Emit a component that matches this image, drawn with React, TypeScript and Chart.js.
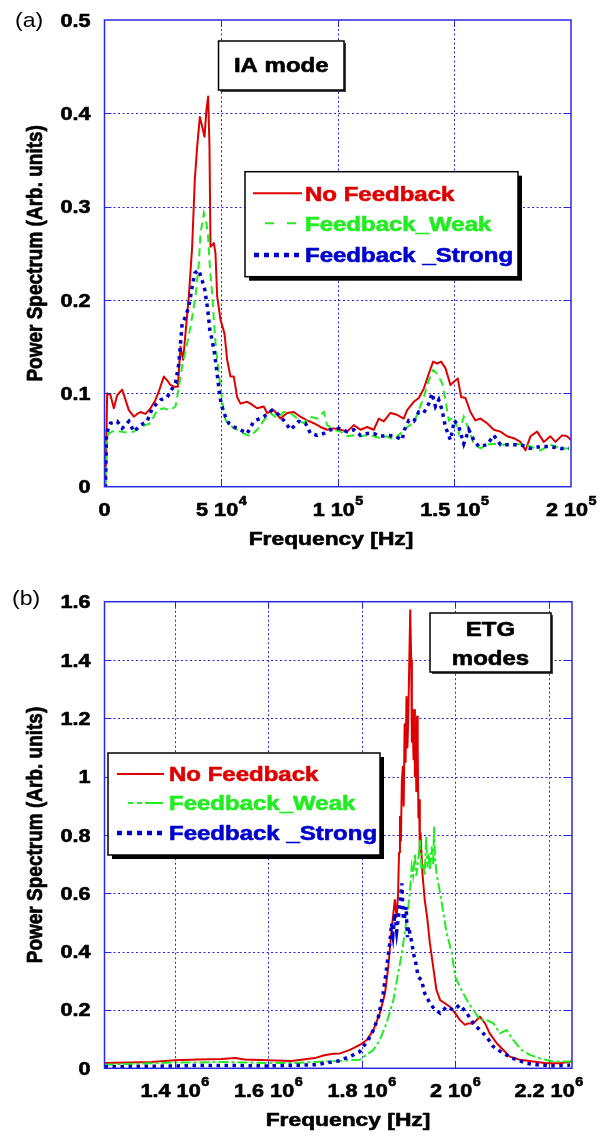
import React, { useEffect, useRef } from 'react';
import { Chart, registerables } from 'chart.js';

Chart.register(...registerables);

// ---------------- data: panel (a) IA mode ----------------
const topNoFeedback: [number, number][] = [
  [0, 0], [430, 0], [1143, 0.1], [2572, 0.098], [4000, 0.084], [5430, 0.098], [7570, 0.104], [9000, 0.093],
  [10430, 0.082], [12570, 0.075], [14000, 0.078], [15430, 0.08], [17570, 0.078], [19720, 0.084], [21860, 0.093],
  [23290, 0.102], [25430, 0.118], [26860, 0.114], [28290, 0.109], [30000, 0.107], [31430, 0.107], [32580, 0.15],
  [33720, 0.136], [34720, 0.164], [36150, 0.204], [37580, 0.257], [38720, 0.329], [39720, 0.364], [40870, 0.396],
  [41870, 0.386], [42870, 0.375], [43720, 0.404], [44440, 0.418], [45010, 0.364], [45440, 0.257], [46870, 0.261],
  [47580, 0.25], [48300, 0.204], [49730, 0.179], [51440, 0.164], [52580, 0.136], [54010, 0.118], [55440, 0.118],
  [56870, 0.096], [58300, 0.089], [61160, 0.091], [62590, 0.089], [65430, 0.084], [68290, 0.086], [69720, 0.079],
  [72580, 0.082], [75440, 0.073], [78290, 0.079], [81150, 0.08], [84010, 0.075], [86870, 0.071], [89720, 0.068],
  [92580, 0.064], [95440, 0.061], [98300, 0.0625], [101160, 0.061], [104020, 0.059], [106880, 0.066], [109730, 0.061],
  [112590, 0.064], [115450, 0.061], [117590, 0.073], [119740, 0.07], [122590, 0.079], [125450, 0.077], [128310, 0.073],
  [129740, 0.082], [132590, 0.091], [134740, 0.095], [136880, 0.105], [139030, 0.121], [140880, 0.134], [142600, 0.132],
  [144310, 0.134], [146170, 0.127], [148310, 0.109], [150030, 0.113], [151460, 0.116], [152890, 0.096], [154750, 0.095],
  [156890, 0.08], [159030, 0.071], [161180, 0.073], [164030, 0.068], [166890, 0.061], [169750, 0.059], [172610, 0.054],
  [175470, 0.052], [178320, 0.048], [180460, 0.039], [182610, 0.054], [185470, 0.059], [188320, 0.048], [191180, 0.054],
  [193320, 0.048], [196180, 0.055], [198330, 0.054], [200000, 0.05],
];

const topFeedbackWeak: [number, number][] = [
  [0, 0], [430, 0], [1143, 0.05], [1860, 0.057], [4000, 0.06], [6860, 0.059], [9720, 0.058], [12570, 0.059],
  [15430, 0.064], [19720, 0.068], [22580, 0.082], [25430, 0.084], [28290, 0.082], [30440, 0.086], [31430, 0.1],
  [33290, 0.129], [35150, 0.15], [36870, 0.171], [39010, 0.204], [40440, 0.239], [41150, 0.271], [42580, 0.293],
  [43720, 0.282], [44300, 0.271], [45150, 0.236], [46150, 0.207], [46870, 0.179], [47870, 0.146], [49010, 0.121],
  [50440, 0.093], [51440, 0.075], [52580, 0.068], [55440, 0.063], [59730, 0.057], [62590, 0.054], [65430, 0.061],
  [68290, 0.071], [71150, 0.079], [74010, 0.073], [76870, 0.08], [79720, 0.079], [82580, 0.073], [85440, 0.068],
  [88300, 0.075], [91160, 0.073], [94020, 0.08], [95440, 0.066], [98300, 0.061], [101160, 0.059], [104020, 0.054],
  [106880, 0.055], [109730, 0.054], [112590, 0.055], [115450, 0.054], [118310, 0.052], [121170, 0.054], [124020, 0.05],
  [126880, 0.057], [129740, 0.064], [132590, 0.068], [134740, 0.082], [136880, 0.096], [139030, 0.114], [140880, 0.125],
  [142600, 0.121], [144740, 0.111], [146170, 0.093], [147600, 0.071], [149740, 0.075], [151880, 0.057], [154030, 0.075],
  [156170, 0.061], [158310, 0.046], [161180, 0.041], [164030, 0.045], [166890, 0.046], [171180, 0.045], [175470, 0.046],
  [179750, 0.045], [182610, 0.043], [186900, 0.039], [191180, 0.045], [195470, 0.041], [199050, 0.041],
];

const topFeedbackStrong: [number, number][] = [
  [0, 0], [430, 0], [860, 0.057], [2572, 0.068], [5430, 0.07], [7570, 0.0625], [10430, 0.07], [12570, 0.059],
  [15430, 0.066], [18290, 0.07], [20430, 0.084], [24000, 0.093], [26860, 0.096], [30440, 0.111], [31870, 0.132],
  [33290, 0.175], [34720, 0.182], [36150, 0.193], [37580, 0.214], [38720, 0.229], [40440, 0.232], [41870, 0.221],
  [43010, 0.211], [44300, 0.189], [45150, 0.168], [46150, 0.157], [47150, 0.143], [48300, 0.121], [49300, 0.1],
  [50010, 0.089], [51160, 0.079], [53300, 0.068], [55440, 0.064], [58300, 0.061], [61160, 0.057], [64010, 0.07],
  [68290, 0.075], [71860, 0.082], [74720, 0.077], [76870, 0.071], [79720, 0.061], [83300, 0.07], [86150, 0.068],
  [88300, 0.057], [91160, 0.055], [94020, 0.057], [96870, 0.061], [100440, 0.0625], [104020, 0.059], [106880, 0.061],
  [109730, 0.055], [112590, 0.057], [115450, 0.057], [118310, 0.054], [121170, 0.055], [124740, 0.054], [127590, 0.05],
  [128600, 0.061], [130450, 0.071], [132590, 0.07], [134740, 0.08], [136880, 0.079], [139030, 0.089], [140450, 0.1],
  [141880, 0.086], [143310, 0.093], [144740, 0.082], [146170, 0.064], [148310, 0.05], [150030, 0.071], [151880, 0.064],
  [154030, 0.046], [156170, 0.061], [158310, 0.05], [160460, 0.043], [164030, 0.045], [166890, 0.055], [169750, 0.045],
  [174040, 0.045], [178320, 0.045], [182610, 0.041], [186900, 0.043], [191180, 0.043], [195470, 0.041], [199050, 0.041],
];

// ---------------- data: panel (b) ETG modes ----------------
const botNoFeedback: [number, number][] = [
  [1250000, 0.018], [1300000, 0.02], [1350000, 0.022], [1400000, 0.028], [1450000, 0.03], [1500000, 0.032],
  [1530000, 0.035], [1550000, 0.03], [1600000, 0.028], [1650000, 0.025], [1700000, 0.035], [1720000, 0.045],
  [1740000, 0.05], [1754000, 0.051], [1775000, 0.063], [1796000, 0.08], [1811000, 0.097], [1825000, 0.131],
  [1839000, 0.189], [1850000, 0.257], [1857000, 0.349], [1864000, 0.474], [1871000, 0.577], [1875000, 0.52],
  [1878000, 0.6], [1880000, 0.74], [1882000, 0.863], [1884000, 0.78], [1886000, 0.98], [1888000, 1.034],
  [1890000, 0.9], [1892000, 1.18], [1894000, 1.05], [1896000, 1.274], [1898000, 1.1], [1900000, 1.22],
  [1902000, 1.4], [1904000, 1.571], [1906000, 1.4], [1907500, 1.12], [1909000, 1.229], [1911000, 1.06],
  [1912500, 1.229], [1914000, 1.0], [1915500, 1.149], [1917000, 0.95], [1918500, 1.206], [1920000, 1.091],
  [1921500, 0.86], [1923000, 0.92], [1924500, 0.74], [1926000, 0.806], [1930000, 0.669], [1935000, 0.577],
  [1940000, 0.52], [1946000, 0.429], [1953000, 0.349], [1960000, 0.269], [1968000, 0.234], [1978000, 0.223],
  [1989000, 0.211], [2000000, 0.189], [2010000, 0.166], [2021000, 0.149], [2028000, 0.154], [2039000, 0.154],
  [2053000, 0.177], [2064000, 0.154], [2074000, 0.12], [2089000, 0.086], [2103000, 0.063], [2117000, 0.04],
  [2139000, 0.029], [2167000, 0.023], [2196000, 0.017], [2224000, 0.017], [2250000, 0.023],
];

const botFeedbackWeak: [number, number][] = [
  [1250000, 0.012], [1300000, 0.015], [1350000, 0.017], [1400000, 0.02], [1450000, 0.02], [1500000, 0.022],
  [1550000, 0.02], [1600000, 0.018], [1650000, 0.018], [1700000, 0.022], [1750000, 0.025], [1775000, 0.028],
  [1796000, 0.029], [1825000, 0.063], [1839000, 0.097], [1853000, 0.154], [1868000, 0.234], [1878000, 0.326],
  [1886000, 0.394], [1893000, 0.474], [1900000, 0.554], [1904000, 0.62], [1907000, 0.691], [1910000, 0.66],
  [1914000, 0.737], [1917000, 0.66], [1921000, 0.714], [1925000, 0.783], [1928000, 0.68], [1932000, 0.703],
  [1935000, 0.66], [1938000, 0.794], [1941000, 0.69], [1943000, 0.737], [1946000, 0.68], [1950000, 0.76],
  [1953000, 0.7], [1955000, 0.829], [1957000, 0.72], [1960000, 0.669], [1968000, 0.6], [1975000, 0.531],
  [1982000, 0.463], [1993000, 0.394], [2000000, 0.314], [2010000, 0.28], [2025000, 0.234], [2039000, 0.2],
  [2053000, 0.166], [2067000, 0.166], [2082000, 0.154], [2096000, 0.12], [2110000, 0.131], [2124000, 0.097],
  [2142000, 0.063], [2160000, 0.046], [2181000, 0.034], [2210000, 0.023], [2249000, 0.023],
];

const botFeedbackStrong: [number, number][] = [
  [1250000, 0.005], [1300000, 0.006], [1350000, 0.007], [1400000, 0.008], [1450000, 0.01], [1500000, 0.01],
  [1550000, 0.009], [1600000, 0.008], [1650000, 0.01], [1700000, 0.012], [1750000, 0.025], [1775000, 0.04],
  [1796000, 0.057], [1814000, 0.097], [1825000, 0.131], [1836000, 0.177], [1846000, 0.257], [1853000, 0.337],
  [1861000, 0.44], [1864000, 0.497], [1867000, 0.46], [1871000, 0.531], [1875000, 0.47], [1878000, 0.509],
  [1882000, 0.566], [1886000, 0.634], [1889000, 0.52], [1891000, 0.509], [1895000, 0.554], [1898000, 0.45],
  [1900000, 0.486], [1905000, 0.451], [1911000, 0.394], [1916000, 0.36], [1921000, 0.314], [1928000, 0.303],
  [1935000, 0.257], [1946000, 0.223], [1957000, 0.2], [1968000, 0.189], [1982000, 0.211], [1996000, 0.2],
  [2010000, 0.217], [2025000, 0.189], [2039000, 0.154], [2053000, 0.131], [2067000, 0.109], [2082000, 0.074],
  [2103000, 0.051], [2124000, 0.034], [2153000, 0.017], [2181000, 0.011], [2217000, 0.008], [2246000, 0.011],
];

// ---------------- ticks & labels ----------------
const seriesLabels = ['No Feedback', 'Feedback_Weak', 'Feedback _Strong'];

const topXTickValues = [0, 50000, 100000, 150000, 200000];
const topXTickMantissas = ['0', '5', '1', '1.5', '2'];
const topXTickExponents = ['', '4', '5', '5', '5'];
const topYTickValues = [0, 0.1, 0.2, 0.3, 0.4, 0.5];
const topYTickLabels = ['0', '0.1', '0.2', '0.3', '0.4', '0.5'];

const botXTickValues = [1400000, 1600000, 1800000, 2000000, 2200000];
const botXTickMantissas = ['1.4', '1.6', '1.8', '2', '2.2'];
const botXTickExponents = ['6', '6', '6', '6', '6'];
const botYTickValues = [0, 0.2, 0.4, 0.6, 0.8, 1, 1.2, 1.4, 1.6];
const botYTickLabels = ['0', '0.2', '0.4', '0.6', '0.8', '1', '1.2', '1.4', '1.6'];

const xTitle = 'Frequency [Hz]';
const yTitle = 'Power Spectrum (Arb. units)';

// ---------------- styles ----------------
const RED = 'rgb(222,0,0)';
const GREEN = 'rgb(34,236,34)';
const BLUE = 'rgb(0,0,205)';
const AXIS_BLUE = 'rgb(40,40,225)';
const FONT = '"Liberation Sans", Arial, Helvetica, sans-serif';
const SX = 1.2;

type Row = { label: string; color: string; dash: number[]; width: number; s0: number; s1: number; cap: CanvasLineCap };

type Panel = {
  canvasH: number;
  padTop: number;
  padRight: number;
  xAxisH: number;
  xMin: number;
  xMax: number;
  yMax: number;
  xTicks: number[];
  xMant: string[];
  xExp: string[];
  yTicks: number[];
  yLabels: string[];
  titleCx: number;
  panelLabel: string;
  panelLabelX: number;
  panelLabelY: number;
  legend: { x: number; y: number; w: number; h: number; rows: number[]; textX: number; styles: Row[] };
  note: { x: number; y: number; w: number; h: number; lines: string[]; baselines: number[] };
};

function drawText(
  ctx: CanvasRenderingContext2D,
  text: string,
  x: number,
  y: number,
  size: number,
  weight: string,
  color: string,
  align: 'left' | 'center' | 'right',
  sx = SX,
) {
  ctx.save();
  ctx.font = `${weight} ${size}px ${FONT}`;
  const w = ctx.measureText(text).width * sx;
  const x0 = align === 'center' ? x - w / 2 : align === 'right' ? x - w : x;
  ctx.translate(x0, y);
  ctx.scale(sx, 1);
  ctx.textAlign = 'left';
  ctx.textBaseline = 'alphabetic';
  ctx.fillStyle = color;
  ctx.fillText(text, 0, 0);
  if (weight === 'bold') {
    ctx.strokeStyle = color;
    ctx.lineWidth = 0.6;
    ctx.lineJoin = 'round';
    ctx.strokeText(text, 0, 0);
  }
  ctx.restore();
  return w;
}

function measure(ctx: CanvasRenderingContext2D, text: string, size: number, weight: string) {
  ctx.save();
  ctx.font = `${weight} ${size}px ${FONT}`;
  const w = ctx.measureText(text).width * SX;
  ctx.restore();
  return w;
}

function makeDecor(p: Panel) {
  return {
    id: 'decor',
    beforeDatasetsDraw(chart: any) {
      const { ctx, chartArea: a, scales } = chart;
      const xs = scales.x;
      const ys = scales.y;
      ctx.save();
      ctx.strokeStyle = AXIS_BLUE;
      ctx.lineWidth = 1;
      ctx.setLineDash([2, 2.5]);
      p.xTicks.forEach((v) => {
        if (v <= p.xMin || v >= p.xMax) return;
        const x = Math.round(xs.getPixelForValue(v)) + 0.5;
        ctx.beginPath();
        ctx.moveTo(x, a.top);
        ctx.lineTo(x, a.bottom);
        ctx.stroke();
      });
      p.yTicks.forEach((v) => {
        if (v <= 0 || v >= p.yMax) return;
        const y = Math.round(ys.getPixelForValue(v)) + 0.5;
        ctx.beginPath();
        ctx.moveTo(a.left, y);
        ctx.lineTo(a.right, y);
        ctx.stroke();
      });
      ctx.restore();
    },
    afterDatasetsDraw(chart: any) {
      const { ctx, chartArea: a, scales } = chart;
      const xs = scales.x;
      const ys = scales.y;
      ctx.save();
      // frame
      ctx.strokeStyle = AXIS_BLUE;
      ctx.lineWidth = 1.5;
      ctx.setLineDash([]);
      ctx.strokeRect(a.left, a.top, a.right - a.left, a.bottom - a.top);
      ctx.lineWidth = 1;
      const tl = 7;
      p.xTicks.forEach((v) => {
        if (v <= p.xMin || v >= p.xMax) return;
        const x = Math.round(xs.getPixelForValue(v)) + 0.5;
        ctx.beginPath();
        ctx.moveTo(x, a.bottom);
        ctx.lineTo(x, a.bottom - tl);
        ctx.moveTo(x, a.top);
        ctx.lineTo(x, a.top + tl);
        ctx.stroke();
      });
      p.yTicks.forEach((v) => {
        if (v <= 0 || v >= p.yMax) return;
        const y = Math.round(ys.getPixelForValue(v)) + 0.5;
        ctx.beginPath();
        ctx.moveTo(a.left, y);
        ctx.lineTo(a.left + tl, y);
        ctx.moveTo(a.right, y);
        ctx.lineTo(a.right - tl, y);
        ctx.stroke();
      });

      // y tick labels
      p.yTicks.forEach((v, i) => {
        const y = ys.getPixelForValue(v);
        drawText(ctx, p.yLabels[i], 90.5, y + 6.5, 18, 'bold', '#000', 'right');
      });

      // x tick labels with superscript exponents
      const base = a.bottom + 29;
      p.xTicks.forEach((v, i) => {
        const cx = xs.getPixelForValue(v);
        const main = p.xExp[i] ? `${p.xMant[i]} 10` : p.xMant[i];
        const mw = measure(ctx, main, 18, 'bold');
        const sw = p.xExp[i] ? measure(ctx, p.xExp[i], 12, 'bold') : 0;
        const start = cx - (mw + sw) / 2;
        drawText(ctx, main, start, base, 18, 'bold', '#000', 'left');
        if (p.xExp[i]) drawText(ctx, p.xExp[i], start + mw + 0.5, base - 11, 12, 'bold', '#000', 'left');
      });

      // axis titles
      drawText(ctx, xTitle, p.titleCx, a.bottom + 58, 19, 'bold', '#000', 'center');
      ctx.save();
      ctx.translate(42, (a.top + a.bottom) / 2);
      ctx.rotate(-Math.PI / 2);
      ctx.scale(1, SX);
      ctx.font = `bold 19px ${FONT}`;
      ctx.textAlign = 'center';
      ctx.textBaseline = 'alphabetic';
      ctx.fillStyle = '#000';
      ctx.fillText(yTitle, 0, 0);
      ctx.strokeStyle = '#000';
      ctx.lineWidth = 0.6;
      ctx.lineJoin = 'round';
      ctx.strokeText(yTitle, 0, 0);
      ctx.restore();

      // panel label
      drawText(ctx, p.panelLabel, p.panelLabelX, p.panelLabelY, 21, 'normal', '#000', 'left', 1.1);

      // note box
      const n = p.note;
      ctx.fillStyle = '#444';
      ctx.fillRect(n.x + 2, n.y + 2, n.w, n.h);
      ctx.fillStyle = '#fff';
      ctx.fillRect(n.x, n.y, n.w, n.h);
      ctx.strokeStyle = '#000';
      ctx.lineWidth = 1.5;
      ctx.strokeRect(n.x, n.y, n.w, n.h);
      n.lines.forEach((t, i) => {
        drawText(ctx, t, n.x + n.w / 2, n.baselines[i], 20, 'bold', '#000', 'center');
      });

      // legend
      const L = p.legend;
      ctx.fillStyle = '#000';
      ctx.fillRect(L.x + 4, L.y + 4, L.w, L.h);
      ctx.fillStyle = '#fff';
      ctx.fillRect(L.x, L.y, L.w, L.h);
      ctx.strokeStyle = '#000';
      ctx.lineWidth = 1.5;
      ctx.strokeRect(L.x, L.y, L.w, L.h);
      L.styles.forEach((r, i) => {
        const cy = L.rows[i];
        ctx.save();
        ctx.strokeStyle = r.color;
        ctx.lineWidth = r.width;
        ctx.lineCap = r.cap;
        ctx.setLineDash(r.dash);
        ctx.beginPath();
        ctx.moveTo(r.s0, cy);
        ctx.lineTo(r.s1, cy);
        ctx.stroke();
        ctx.restore();
        drawText(ctx, r.label, L.textX, cy + 7.2, 20, 'bold', r.color, 'left');
      });
      ctx.restore();
    },
  };
}

const toXY = (arr: [number, number][]) => arr.map(([x, y]) => ({ x, y }));

const topPanel: Panel = {
  canvasH: 560,
  padTop: 20,
  padRight: 40,
  xAxisH: 560 - 486.7,
  xMin: 0,
  xMax: 200000,
  yMax: 0.5,
  xTicks: topXTickValues,
  xMant: topXTickMantissas,
  xExp: topXTickExponents,
  yTicks: topYTickValues,
  yLabels: topYTickLabels,
  titleCx: 331,
  panelLabel: '(a)',
  panelLabelX: 15,
  panelLabelY: 27,
  legend: {
    x: 245, y: 171.7, w: 273, h: 105, rows: [193.3, 223.3, 255], textX: 305,
    styles: [
      { label: seriesLabels[0], color: RED, dash: [], width: 2, s0: 253, s1: 302, cap: 'butt' },
      { label: seriesLabels[1], color: GREEN, dash: [9, 13], width: 2, s0: 265, s1: 302, cap: 'butt' },
      { label: seriesLabels[2], color: BLUE, dash: [5, 5], width: 4.5, s0: 254, s1: 302, cap: 'butt' },
    ],
  },
  note: { x: 218.5, y: 41, w: 125.5, h: 49, lines: ['IA mode'], baselines: [72] },
};

const botPanel: Panel = {
  canvasH: 582,
  padTop: 41.7,
  padRight: 39,
  xAxisH: 582 - 508.3,
  xMin: 1250000,
  xMax: 2250000,
  yMax: 1.6,
  xTicks: botXTickValues,
  xMant: botXTickMantissas,
  xExp: botXTickExponents,
  yTicks: botYTickValues,
  yLabels: botYTickLabels,
  titleCx: 348,
  panelLabel: '(b)',
  panelLabelX: 12,
  panelLabelY: 45,
  legend: {
    x: 108, y: 193, w: 272, h: 102, rows: [214, 243, 273], textX: 169,
    styles: [
      { label: seriesLabels[0], color: RED, dash: [], width: 2, s0: 117, s1: 164, cap: 'butt' },
      { label: seriesLabels[1], color: GREEN, dash: [5, 4, 5, 3, 40], width: 2, s0: 128, s1: 163, cap: 'butt' },
      { label: seriesLabels[2], color: BLUE, dash: [5, 5], width: 4.5, s0: 117, s1: 165, cap: 'butt' },
    ],
  },
  note: { x: 430, y: 53, w: 121, h: 59, lines: ['ETG', 'modes'], baselines: [75.5, 105] },
};

function buildConfig(p: Panel, series: [number, number][][], weakDash: number[]) {
  return {
    type: 'line' as const,
    data: {
      datasets: [
        {
          label: seriesLabels[0],
          data: toXY(series[0]),
          borderColor: RED,
          borderWidth: 2,
          borderJoinStyle: 'round' as const,
          pointRadius: 0,
          tension: 0,
          order: 2,
        },
        {
          label: seriesLabels[1],
          data: toXY(series[1]),
          borderColor: GREEN,
          borderWidth: 2,
          borderDash: weakDash,
          pointRadius: 0,
          tension: 0,
          order: 1,
        },
        {
          label: seriesLabels[2],
          data: toXY(series[2]),
          borderColor: BLUE,
          borderWidth: 3.5,
          borderDash: [3.5, 4.5],
          borderCapStyle: 'butt' as const,
          pointRadius: 0,
          tension: 0,
          order: 0,
        },
      ],
    },
    options: {
      animation: false as const,
      responsive: false,
      devicePixelRatio: 1,
      events: [],
      layout: { padding: { left: 0, right: p.padRight, top: p.padTop, bottom: 0 } },
      plugins: { legend: { display: false }, tooltip: { enabled: false }, title: { display: false } },
      scales: {
        x: {
          type: 'linear' as const,
          min: p.xMin,
          max: p.xMax,
          ticks: { display: false },
          grid: { display: false },
          border: { display: false },
          afterFit: (s: any) => {
            s.height = p.xAxisH;
          },
        },
        y: {
          type: 'linear' as const,
          min: 0,
          max: p.yMax,
          ticks: { display: false },
          grid: { display: false },
          border: { display: false },
          afterFit: (s: any) => {
            s.width = 104.5;
          },
        },
      },
    },
    plugins: [makeDecor(p)],
  };
}

export default function App() {
  const topRef = useRef<HTMLCanvasElement | null>(null);
  const botRef = useRef<HTMLCanvasElement | null>(null);

  useEffect(() => {
    const charts: Chart[] = [];
    if (topRef.current) {
      charts.push(
        new Chart(
          topRef.current,
          buildConfig(topPanel, [topNoFeedback, topFeedbackWeak, topFeedbackStrong], [8, 5]) as any,
        ),
      );
    }
    if (botRef.current) {
      charts.push(
        new Chart(
          botRef.current,
          buildConfig(botPanel, [botNoFeedback, botFeedbackWeak, botFeedbackStrong], [10, 3, 3, 3]) as any,
        ),
      );
    }
    return () => charts.forEach((c) => c.destroy());
  }, []);

  return (
    <div style={{ position: 'absolute', left: 0, top: 0, width: 611, height: 1142, background: '#fff' }}>
      <canvas
        ref={topRef}
        width={611}
        height={560}
        style={{ position: 'absolute', left: 0, top: 0, width: 611, height: 560 }}
      />
      <canvas
        ref={botRef}
        width={611}
        height={582}
        style={{ position: 'absolute', left: 0, top: 560, width: 611, height: 582 }}
      />
    </div>
  );
}
